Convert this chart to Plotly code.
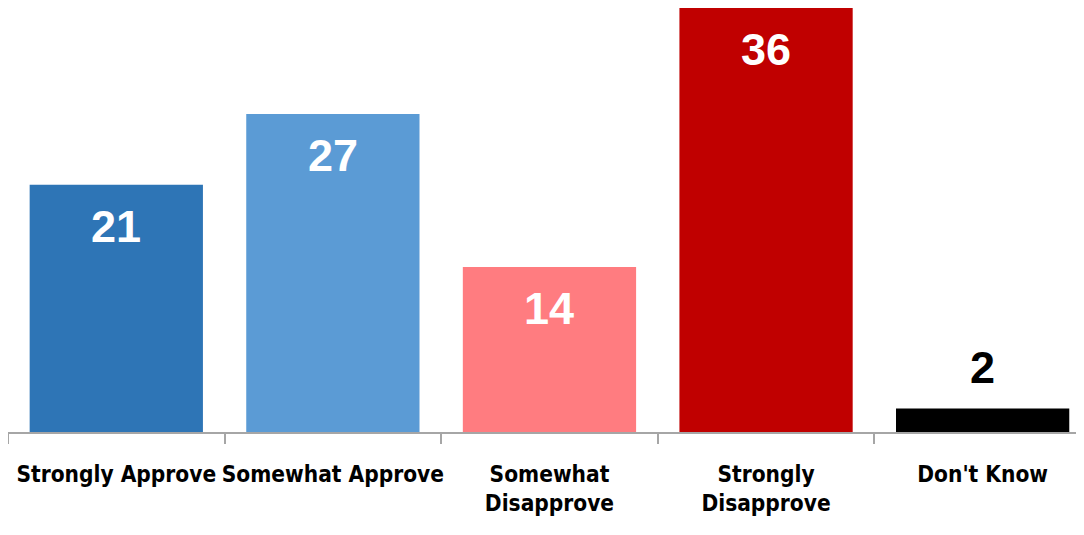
import plotly.graph_objects as go

categories = ["Strongly Approve", "Somewhat Approve", "Somewhat<br>Disapprove",
              "Strongly<br>Disapprove", "Don't Know"]
values = [21, 27, 14, 36, 2]
colors = ["#2E75B6", "#5B9BD5", "#FF7C80", "#C00000", "#000000"]

fig = go.Figure()
fig.add_trace(go.Bar(
    x=categories, y=values, marker=dict(color=colors, line=dict(width=0)),
    width=0.8, hoverinfo="skip", showlegend=False,
))

# value labels: inside near the top for tall bars, above the bar for the tiny one
for cat, v in zip(categories, values):
    inside = v > 5
    fig.add_annotation(
        x=cat, y=v, text=str(v), showarrow=False,
        yanchor="top" if inside else "bottom",
        yshift=-14 if inside else 13,
        font=dict(family="Liberation Sans, Arial, sans-serif", size=45,
                  color="white" if inside else "black", weight="bold"),
    )

# page body has an 8px margin, so the figure is sized to fit the window
fig.update_layout(
    width=1076, height=527,
    margin=dict(l=0, r=0, t=0, b=103, autoexpand=False),
    paper_bgcolor="white", plot_bgcolor="white",
    bargap=0.2,
    xaxis=dict(
        range=[-0.5, 4.468], showline=True, linecolor="#A6A6A6", linewidth=1.5,
        ticks="outside", tickson="boundaries", ticklen=10, tickcolor="#A6A6A6",
        tickwidth=1.5, ticklabelstandoff=21, tickangle=0, automargin=False,
        tickfont=dict(family="DejaVu Sans Condensed, sans-serif",
                      size=22.5, color="black", weight="bold"),
        showgrid=False, fixedrange=True,
    ),
    yaxis=dict(range=[0, 36], visible=False, showgrid=False, fixedrange=True,
               automargin=False),
)

fig.write_html("out.html")
